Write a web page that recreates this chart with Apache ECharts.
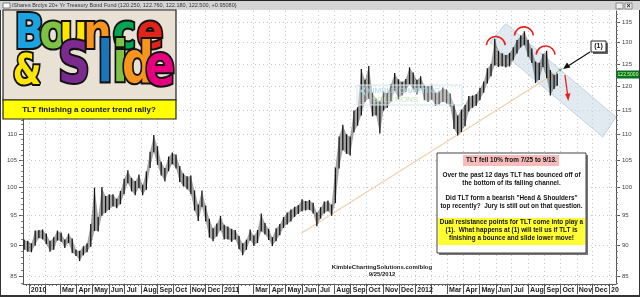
<!DOCTYPE html>
<html><head><meta charset="utf-8">
<script src="https://cdn.jsdelivr.net/npm/echarts@6/dist/echarts.min.js"></script>
<style>html,body{margin:0;padding:0;background:#fff}#c{width:640px;height:297px}</style>
</head><body><div id="c"></div>
<script>
// ---------- DATA (weekly bars) ----------
const weekDates = [
'2009-12-23','2009-12-30',
'2010-01-06','2010-01-13','2010-01-20','2010-01-27','2010-02-03','2010-02-10','2010-02-17','2010-02-24',
'2010-03-03','2010-03-10','2010-03-17','2010-03-24','2010-03-31','2010-04-07','2010-04-14','2010-04-21','2010-04-28',
'2010-05-05','2010-05-12','2010-05-19','2010-05-26','2010-06-02','2010-06-09','2010-06-16','2010-06-23','2010-06-30',
'2010-07-07','2010-07-14','2010-07-21','2010-07-28','2010-08-04','2010-08-11','2010-08-18','2010-08-25','2010-09-01',
'2010-09-08','2010-09-15','2010-09-22','2010-09-29','2010-10-06','2010-10-13','2010-10-20','2010-10-27','2010-11-03',
'2010-11-10','2010-11-17','2010-11-24','2010-12-01','2010-12-08','2010-12-15','2010-12-22','2010-12-29',
'2011-01-05','2011-01-12','2011-01-19','2011-01-26','2011-02-02','2011-02-09','2011-02-16','2011-02-23','2011-03-02',
'2011-03-09','2011-03-16','2011-03-23','2011-03-30','2011-04-06','2011-04-13','2011-04-20','2011-04-27','2011-05-04',
'2011-05-11','2011-05-18','2011-05-25','2011-06-01','2011-06-08','2011-06-15','2011-06-22','2011-06-29','2011-07-06',
'2011-07-13','2011-07-20','2011-07-27','2011-08-03','2011-08-10','2011-08-17','2011-08-24','2011-08-31','2011-09-07',
'2011-09-14','2011-09-21','2011-09-28','2011-10-05','2011-10-12','2011-10-19','2011-10-26','2011-11-02','2011-11-09',
'2011-11-16','2011-11-23','2011-11-30','2011-12-07','2011-12-14','2011-12-21','2011-12-28',
'2012-01-04','2012-01-11','2012-01-18','2012-01-25','2012-02-01','2012-02-08','2012-02-15','2012-02-22','2012-02-29',
'2012-03-07','2012-03-14','2012-03-21','2012-03-28','2012-04-04','2012-04-11','2012-04-18','2012-04-25','2012-05-02',
'2012-05-09','2012-05-16','2012-05-23','2012-05-30','2012-06-06','2012-06-13','2012-06-20','2012-06-27','2012-07-04',
'2012-07-11','2012-07-18','2012-07-25','2012-08-01','2012-08-08','2012-08-15','2012-08-22','2012-08-29','2012-09-05',
'2012-09-12','2012-09-19','2012-09-25'];
const weekHigh = [
90.8,90.6,
90.2,92.3,92.4,92.5,91.8,90.6,91.2,92.3,92.0,90.8,91.8,91.0,89.2,89.0,89.7,90.2,93.4,
99.8,94.6,99.9,98.3,98.6,98.6,97.8,99.2,101.4,103.0,101.6,101.0,102.2,100.3,102.8,106.5,109.8,
107.6,104.6,103.4,105.6,106.4,106.0,103.8,102.4,101.9,102.0,99.3,96.8,99.3,96.6,94.3,92.7,93.5,94.8,
93.3,93.0,92.6,92.4,91.4,90.2,90.8,92.5,91.5,92.4,95.2,93.6,92.6,91.2,92.7,93.4,94.6,
95.4,95.9,96.4,96.7,97.7,97.4,97.6,97.1,95.4,96.3,97.3,97.5,96.8,103.5,109.5,111.9,110.0,109.5,
114.8,115.5,123.8,121.4,124.5,118.6,117.3,116.8,118.8,118.6,120.5,122.9,121.5,121.0,121.6,124.2,123.0,
121.4,122.2,120.2,120.0,120.3,118.6,118.9,119.7,119.3,118.4,116.2,113.8,115.0,116.0,117.9,118.0,118.3,119.6,
121.0,124.0,125.0,130.8,128.0,127.4,127.0,127.5,128.8,130.5,131.6,132.6,130.5,128.5,125.5,125.2,127.3,128.0,
123.6,122.5,122.8];
const weekLow = [
89.3,89.0,
88.9,90.0,91.2,91.0,90.2,89.0,89.3,90.8,90.6,89.6,90.4,88.8,88.3,87.5,88.4,88.9,89.8,
92.4,92.3,95.0,95.5,96.0,96.6,96.3,97.0,98.8,100.8,99.3,98.6,99.9,98.6,99.6,103.6,106.6,
104.2,102.2,101.1,103.0,104.3,103.5,101.0,100.2,99.7,98.8,95.9,94.1,96.5,94.0,91.3,90.7,91.5,92.5,
91.0,91.0,90.6,91.0,89.4,88.4,89.3,90.8,89.9,90.4,92.3,91.8,90.9,89.9,90.7,91.7,92.9,
93.5,94.0,94.8,95.3,95.8,95.9,96.0,95.4,93.2,94.5,95.4,95.8,95.0,97.2,103.5,107.0,106.3,106.0,
110.5,111.9,114.0,116.8,117.5,113.8,114.0,110.3,115.0,115.6,116.8,119.2,117.4,118.2,119.0,120.6,119.5,
118.4,119.8,117.2,116.8,117.3,116.0,116.3,116.8,116.5,115.9,111.2,109.9,110.6,111.8,114.8,115.6,116.0,117.2,
118.8,120.8,122.4,124.8,124.5,124.6,124.4,124.6,126.0,127.6,129.0,129.5,126.8,125.4,120.9,121.6,124.5,122.0,
118.2,119.6,120.3];

// axis ticks / labels
const priceTicks = [85,90,95,100,105,110,115,120,125,130,135];
const monthNames = ['Jan','Feb','Mar','Apr','May','Jun','Jul','Aug','Sep','Oct','Nov','Dec'];
const axisStart = '2009-12-21', axisEnd = '2013-01-14';
const priceMin = 83.84, priceMax = 137.7;

// annotations (data coordinates)
const trendLine = [['2011-05-30', 91.9], ['2012-10-06', 124.1]];
const channelBand = [['2012-06-20', 134.6], ['2013-01-14', 113.55], ['2012-12-20', 109.5], ['2012-05-21', 130.1]];
const hsPeaks = [['2012-06-01', 129.2], ['2012-07-24', 131.5], ['2012-09-03', 127.0]];

// ---------- helpers ----------
const ts = d => { const [y,m,dd] = d.split('-').map(Number); return Date.UTC(y, m-1, dd); };
const L = Math.log;
const monthStarts = [];
for (let y = 2010; y <= 2013; y++) for (let m = 0; m < 12; m++) { if (y === 2013 && m > 0) break; monthStarts.push(Date.UTC(y, m, 1)); }
const labelMonths = monthStarts.filter(t => new Date(t).getUTCMonth() !== 1);
const weekTicks = [];
for (let t = ts('2009-12-28'); t < ts(axisEnd); t += 7*864e5) weekTicks.push(t);
const minorPrices = []; for (let p = 84; p <= 137; p++) minorPrices.push(L(p));

const barData = weekDates.map((d,i) => [ts(d), L(weekLow[i]), L(weekHigh[i])]);

const chart = echarts.init(document.getElementById('c'), null, {renderer:'canvas'});
const FONT = '"Liberation Sans", Arial, sans-serif';

const grid = {left: 23, right: 24, top: 11, bottom: 13, containLabel: false};
const yBase = {type:'value', min: L(priceMin), max: L(priceMax), scale:true};

chart.setOption({
  animation: false,
  backgroundColor: '#ffffff',
  grid: grid,
  xAxis: [{
    type: 'value', min: ts(axisStart), max: ts(axisEnd), position:'bottom',
    axisLine: {show:true, lineStyle:{color:'#555', width:1}},
    axisTick: {show:true, customValues: monthStarts, length: 10, lineStyle:{color:'#555'}},
    axisLabel: {show:true, customValues: labelMonths, align:'left', margin: 3, padding:[0,0,0,2],
      fontFamily: FONT, fontWeight:'bold', fontSize: 7, color:'#222',
      formatter: v => { const d = new Date(v); const m = d.getUTCMonth(); if (m===0) return d.getUTCFullYear()===2013 ? '20' : String(d.getUTCFullYear()); return monthNames[m]; }},
    splitLine: {show:true, lineStyle:{color:'#c8c8c8', type:[1,3], width:1}}
  },{
    type: 'value', min: ts(axisStart), max: ts(axisEnd), position:'bottom',
    axisLine:{show:false}, axisLabel:{show:false}, splitLine:{show:false},
    axisTick:{show:true, customValues: weekTicks, length:2, lineStyle:{color:'#666'}}
  }],
  yAxis: [
    Object.assign({}, yBase, {position:'right',
      axisLine:{show:true, lineStyle:{color:'#555'}},
      axisTick:{show:true, customValues: priceTicks.map(L), length:4, lineStyle:{color:'#555'}},
      axisLabel:{show:true, customValues: priceTicks.map(L), margin:6, fontFamily: FONT, fontSize:6, color:'#444',
        formatter: v => String(Math.round(Math.exp(v)))},
      splitLine:{show:true, lineStyle:{color:'#c8c8c8', type:[1,3], width:1}}}),
    Object.assign({}, yBase, {position:'left',
      axisLine:{show:true, lineStyle:{color:'#555'}},
      axisTick:{show:true, customValues: priceTicks.map(L), length:4, lineStyle:{color:'#555'}},
      axisLabel:{show:true, customValues: priceTicks.map(L), margin:6, fontFamily: FONT, fontSize:6, color:'#444',
        formatter: v => String(Math.round(Math.exp(v)))},
      splitLine:{show:false}}),
    Object.assign({}, yBase, {position:'right',
      axisLine:{show:false}, axisLabel:{show:false}, splitLine:{show:false},
      axisTick:{show:true, customValues: minorPrices, length:2, lineStyle:{color:'#777'}}}),
    Object.assign({}, yBase, {position:'left',
      axisLine:{show:false}, axisLabel:{show:false}, splitLine:{show:false},
      axisTick:{show:true, customValues: minorPrices, length:2, lineStyle:{color:'#777'}}})
  ],
  series: [
    { // falling channel band
      type:'custom', xAxisIndex:0, yAxisIndex:0, clip:true, z:1, silent:true,
      data:[0],
      renderItem:(params, api) => {
        const pts = channelBand.map(p => api.coord([ts(p[0]), L(p[1])]));
        return {type:'polygon', shape:{points:pts}, style:{fill:'rgba(200,216,230,0.55)', stroke:'rgba(170,190,210,0.6)', lineWidth:1}};
      }
    },
    { // rising trend line
      type:'line', xAxisIndex:0, yAxisIndex:0, z:2, symbol:'none', silent:true,
      data: trendLine.map(p => [ts(p[0]), L(p[1])]),
      lineStyle:{color:'#f0cfae', width:1.2}
    },
    { // price bars (high-low), joined to the next bar so the trace reads as one ragged band
      type:'custom', xAxisIndex:0, yAxisIndex:0, z:3, clip:true,
      data: barData,
      encode:{x:0, y:[1,2]},
      renderItem:(params, api) => {
        const i = params.dataIndex;
        const x = api.value(0);
        const lo = api.coord([x, api.value(1)]);
        const hi = api.coord([x, api.value(2)]);
        const children = [];
        if (i < barData.length - 1) {
          const n = barData[i+1];
          const lo2 = api.coord([n[0], n[1]]);
          const hi2 = api.coord([n[0], n[2]]);
          children.push({type:'polygon', shape:{points:[hi, hi2, lo2, lo]}, style:{fill:'rgba(40,40,40,0.42)'}});
        }
        children.push({type:'line', shape:{x1:lo[0], y1:lo[1]+0.5, x2:hi[0], y2:hi[1]-0.5}, style:{stroke:'#161616', lineWidth:1.3}});
        return {type:'group', children};
      }
    },
    { // head & shoulders arcs
      type:'custom', xAxisIndex:0, yAxisIndex:0, z:4, silent:true,
      data: hsPeaks.map(p => [ts(p[0]), L(p[1])]),
      renderItem:(params, api) => {
        const c = api.coord([api.value(0), api.value(1)]);
        return {type:'arc', shape:{cx:c[0], cy:c[1], r:9.5, startAngle:Math.PI*1.03, endAngle:Math.PI*1.97, clockwise:true},
          style:{stroke:'#e8201c', lineWidth:1.6, fill:null}};
      }
    }
  ]
});

// ---------- overlay graphics ----------
const g = [];
// title bar
g.push({type:'rect', shape:{x:0,y:0,width:640,height:10}, style:{fill:'#d4d4d4'}, z:100});
g.push({type:'rect', shape:{x:0,y:0,width:640,height:1}, style:{fill:'#222'}, z:101});
g.push({type:'rect', shape:{x:3,y:3,width:7,height:5}, style:{fill:'#fff', stroke:'#333', lineWidth:0.6}, z:101});
g.push({type:'text', x:12, y:5.5, style:{text:'iShares Brclys 20+ Yr Treasury Bond Fund (120.250, 122.760, 122.180, 122.500, +0.95080)', font:'5.5px '+FONT, fill:'#333', verticalAlign:'middle'}, z:102});
g.push({type:'rect', shape:{x:616,y:3,width:7,height:6}, style:{fill:'#eee', stroke:'#555', lineWidth:0.6}, z:101});
g.push({type:'rect', shape:{x:625,y:3,width:7,height:6}, style:{fill:'#eee', stroke:'#555', lineWidth:0.6}, z:101});
g.push({type:'text', x:619.5, y:6, style:{text:'_', font:'bold 6px '+FONT, fill:'#222', align:'center', verticalAlign:'middle'}, z:102});
g.push({type:'text', x:628.5, y:6.3, style:{text:'×', font:'bold 7px '+FONT, fill:'#222', align:'center', verticalAlign:'middle'}, z:102});
// outer frame
g.push({type:'rect', shape:{x:0.5,y:0.5,width:639,height:296}, style:{fill:null, stroke:'#333', lineWidth:1}, z:99});
g.push({type:'rect', shape:{x:0,y:295,width:640,height:2}, style:{fill:'#333'}, z:99});

// logo panel
g.push({type:'rect', shape:{x:3,y:10,width:173,height:90}, style:{fill:'#e9e1d3', stroke:'#222', lineWidth:1.2}, z:110});
const letters1 = [['B',29.5,'#1aa3e0'],['o',53,'#7dc242'],['u',73.5,'#ffe600'],['n',97.5,'#f7941d'],['c',124.5,'#00a651'],['e',150,'#e2231a']];
letters1.forEach(([ch,x,col]) => g.push({type:'text', x:x, y:35.5, scaleX:0.82,
  style:{text:ch, font:'bold 48px "DejaVu Sans", sans-serif', fill:col, stroke:'#111', lineWidth:4.2, align:'center', verticalAlign:'middle'}, z:111}));
const letters2 = [['&',27,'#ffe600',42,73],['S',74,'#7b2b8e',57,68],['l',105,'#1b75bc',57,66],['i',120,'#7dc242',57,66],['d',138,'#f7941d',57,67],['e',160,'#e6007e',57,70]];
letters2.forEach(([ch,x,col,fs,y]) => g.push({type:'text', x:x, y:y, scaleX:0.78,
  style:{text:ch, font:'bold '+fs+'px "DejaVu Sans", sans-serif', fill:col, stroke:'#111', lineWidth:4.2, align:'center', verticalAlign:'middle'}, z:111}));
// yellow caption
g.push({type:'rect', shape:{x:3,y:100,width:173,height:19}, style:{fill:'#ffff00', stroke:'#222', lineWidth:1.2}, z:110});
g.push({type:'text', x:89, y:110, style:{text:'TLT finishing a counter trend rally?', font:'bold 8px '+FONT, fill:'#111', align:'center', verticalAlign:'middle'}, z:111});

// watermark
g.push({type:'rect', shape:{x:357,y:85,width:105,height:20}, style:{fill:'rgba(255,255,255,0.3)', stroke:'#cfe6ee', lineWidth:1}, z:50});
g.push({type:'text', x:367, y:91, style:{text:'KIMBLE CHARTING', font:'8px '+FONT, fill:'#a9d6e6', verticalAlign:'middle'}, z:51});
g.push({type:'text', x:372, y:99.5, style:{text:'SOLUTIONS', font:'8px '+FONT, fill:'#bfe0b8', verticalAlign:'middle'}, z:51});
g.push({type:'polygon', shape:{points:[[360,91],[366,86],[364,91],[366,96]]}, style:{fill:'#a9d6e6'}, z:51});

// (1) box and arrows
g.push({type:'rect', shape:{x:593,y:43,width:15,height:11}, style:{fill:'#666'}, z:60});
g.push({type:'rect', shape:{x:591,y:41,width:15,height:11}, style:{fill:'#fff', stroke:'#222', lineWidth:1}, z:61});
g.push({type:'text', x:598.5, y:46.5, style:{text:'(1)', font:'bold 7px '+FONT, fill:'#111', align:'center', verticalAlign:'middle'}, z:62});
g.push({type:'line', shape:{x1:590,y1:52,x2:568,y2:66}, style:{stroke:'#111', lineWidth:1.2}, z:60});
g.push({type:'polygon', shape:{points:[[563,69],[567,62.5],[570.5,67.5]]}, style:{fill:'#111'}, z:60});
g.push({type:'line', shape:{x1:565,y1:75,x2:567.6,y2:95}, style:{stroke:'#e8201c', lineWidth:1.3}, z:60});
g.push({type:'polygon', shape:{points:[[568.3,101],[565,94],[570.5,93.3]]}, style:{fill:'#e8201c'}, z:60});
g.push({type:'line', shape:{x1:556,y1:73,x2:560,y2:70}, style:{stroke:'#3cb371', lineWidth:1, lineDash:[1,1]}, z:60});
g.push({type:'polygon', shape:{points:[[562,68.5],[558.5,69.2],[560.5,71.5]]}, style:{fill:'#3cb371'}, z:60});

// last price tag
g.push({type:'rect', shape:{x:617,y:71,width:22,height:7}, style:{fill:'#0a7a0a', stroke:'#063'}, z:70});
g.push({type:'text', x:628, y:74.7, style:{text:'122.5000', font:'5px '+FONT, fill:'#cfffcf', align:'center', verticalAlign:'middle'}, z:71});

// comment box
const bx = 437, by = 153, bw = 149, bh = 100;
g.push({type:'rect', shape:{x:bx+2,y:by+2,width:bw,height:bh}, style:{fill:'#777'}, z:80});
g.push({type:'rect', shape:{x:bx,y:by,width:bw,height:bh}, style:{fill:'#fff', stroke:'#444', lineWidth:1}, z:81});
g.push({type:'rect', shape:{x:463,y:155,width:96,height:11}, style:{fill:'#f6bcbc'}, z:82});
g.push({type:'rect', shape:{x:438,y:218,width:147,height:27}, style:{fill:'#ffff33'}, z:82});
const cx = bx + bw/2;
const boxLines = [
  ['TLT fell 10% from 7/25 to 9/13.', 160.5],
  ['Over the past 12 days TLT has bounced off of', 175],
  ['the bottom of its falling channel.', 183.3],
  ['Did TLT form a bearish "Head & Shoulders"', 198.3],
  ['top recently?  Jury is still out on that question.', 206.7],
  ['Dual resistance points for TLT come into play a', 222],
  ['(1).  What happens at (1) will tell us if TLT is', 230],
  ['finishing a bounce and slide lower move!', 238]
];
boxLines.forEach(([t,y]) => g.push({type:'text', x:cx, y:y, style:{text:t, font:'bold 6.4px '+FONT, fill:'#111', align:'center', verticalAlign:'middle'}, z:83}));

// credit
g.push({type:'text', x:382, y:267.5, style:{text:'KimbleChartingSolutions.com/blog', font:'bold 6px '+FONT, fill:'#222', align:'center', verticalAlign:'middle'}, z:40});
g.push({type:'text', x:382, y:274.5, style:{text:'9/25/2012', font:'bold 6px '+FONT, fill:'#222', align:'center', verticalAlign:'middle'}, z:40});

chart.setOption({graphic: g});
</script></body></html>
